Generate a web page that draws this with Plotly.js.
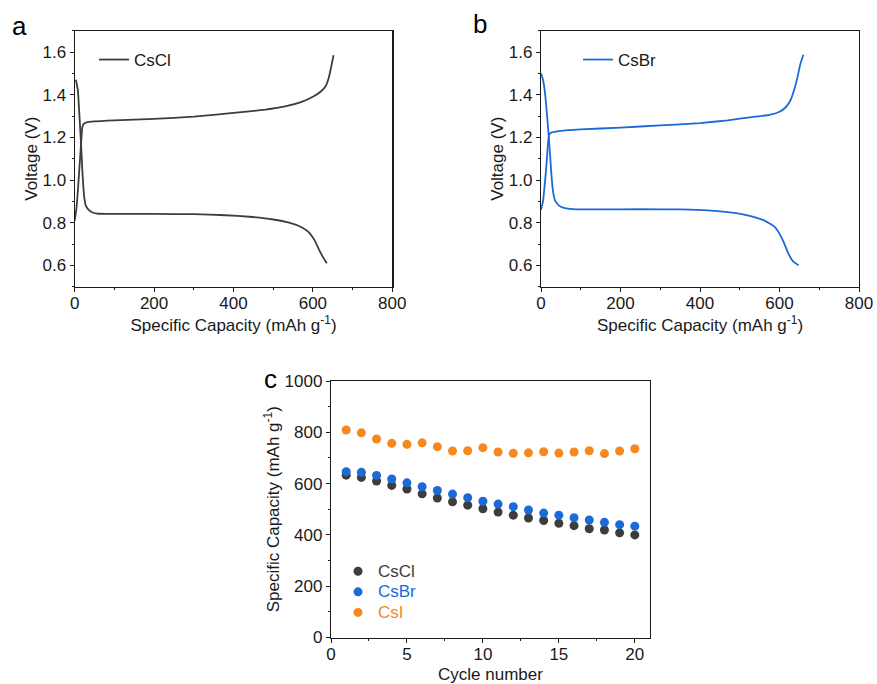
<!DOCTYPE html>
<html>
<head>
<meta charset="utf-8">
<script src="https://cdn.plot.ly/plotly-3.0.1.min.js"></script>
<style>
  html, body { margin: 0; padding: 0; background: #fff; }
  #chart { width: 877px; height: 684px; }
</style>
</head>
<body>
<div id="chart"></div>
<script>
// ---- Panel a: CsCl charge / discharge profile ----
const clDisCap = [3, 8, 12, 16, 20, 24, 28, 35, 45, 60, 100, 200, 300, 380, 440, 500, 540, 570, 590, 605, 615, 625, 635];
const clDisV   = [1.47, 1.42, 1.30, 1.17, 1.02, 0.92, 0.88, 0.86, 0.848, 0.842, 0.841, 0.841, 0.840, 0.835, 0.828, 0.815, 0.800, 0.780, 0.755, 0.715, 0.675, 0.640, 0.610];
const clChgCap = [0, 4, 8, 12, 16, 19, 22, 30, 50, 100, 200, 300, 400, 480, 530, 570, 600, 620, 632, 640, 646, 652];
const clChgV   = [0.81, 0.86, 0.95, 1.06, 1.17, 1.245, 1.262, 1.27, 1.275, 1.28, 1.287, 1.297, 1.315, 1.33, 1.345, 1.365, 1.39, 1.415, 1.44, 1.48, 1.53, 1.585];

// ---- Panel b: CsBr charge / discharge profile ----
const brDisCap = [0, 5, 10, 14, 18, 22, 26, 30, 35, 45, 60, 80, 150, 250, 350, 420, 480, 530, 560, 585, 597, 610, 622, 635, 648];
const brDisV   = [1.50, 1.47, 1.41, 1.33, 1.24, 1.14, 1.03, 0.95, 0.905, 0.88, 0.868, 0.864, 0.862, 0.863, 0.862, 0.858, 0.847, 0.830, 0.812, 0.785, 0.758, 0.711, 0.656, 0.617, 0.600];
const brChgCap = [0, 5, 10, 14, 18, 21, 26, 50, 100, 200, 300, 400, 470, 530, 575, 600, 615, 628, 638, 645, 652, 660];
const brChgV   = [0.86, 0.90, 0.99, 1.08, 1.18, 1.215, 1.222, 1.23, 1.237, 1.246, 1.256, 1.267, 1.28, 1.295, 1.305, 1.32, 1.34, 1.375, 1.43, 1.48, 1.54, 1.587];

// ---- Panel c: cycling capacity ----
const cycles = [1, 2, 3, 4, 5, 6, 7, 8, 9, 10, 11, 12, 13, 14, 15, 16, 17, 18, 19, 20];
const capCsCl = [633, 624, 610, 593, 579, 560, 544, 529, 516, 502, 489, 477, 466, 456, 445, 436, 424, 419, 408, 400];
const capCsBr = [646, 644, 632, 618, 603, 588, 573, 559, 545, 531, 520, 510, 497, 485, 477, 467, 458, 449, 440, 434];
const capCsI  = [809, 798, 774, 757, 753, 759, 744, 727, 728, 740, 723, 718, 720, 724, 719, 723, 728, 717, 727, 736];

const colCl = '#3d3d3d';
const colBr = '#1b6ad8';
const colI  = '#f5891f';
const ink = '#1a1a1a';
const FONT = 'Liberation Sans, Arial, sans-serif';
const FS = 17;

// profile = discharge branch, gap, charge branch
function profile(dc, dv, cc, cv) {
  return { x: dc.concat([null], cc), y: dv.concat([null], cv) };
}
const pa = profile(clDisCap, clDisV, clChgCap, clChgV);
const pb = profile(brDisCap, brDisV, brChgCap, brChgV);

// legend entries of panel c are tinted like their markers
const tinted = (name, col) => '<span style="color:' + col + ';font-size:' + FS + 'px">' + name + '</span>';

const traces = [
  { type: 'scatter', mode: 'lines', x: pa.x, y: pa.y, xaxis: 'x', yaxis: 'y',
    name: 'CsCl', line: { color: colCl, width: 1.8, shape: 'spline', smoothing: 0.35 }, legend: 'legend', connectgaps: false },
  { type: 'scatter', mode: 'lines', x: pb.x, y: pb.y, xaxis: 'x2', yaxis: 'y2',
    name: 'CsBr', line: { color: colBr, width: 1.8, shape: 'spline', smoothing: 0.35 }, legend: 'legend2', connectgaps: false },
  { type: 'scatter', mode: 'markers', x: cycles, y: capCsCl, xaxis: 'x3', yaxis: 'y3',
    name: tinted('CsCl', colCl), marker: { color: colCl, size: 9 }, legend: 'legend3' },
  { type: 'scatter', mode: 'markers', x: cycles, y: capCsBr, xaxis: 'x3', yaxis: 'y3',
    name: tinted('CsBr', colBr), marker: { color: colBr, size: 9 }, legend: 'legend3' },
  { type: 'scatter', mode: 'markers', x: cycles, y: capCsI, xaxis: 'x3', yaxis: 'y3',
    name: tinted('CsI', colI), marker: { color: colI, size: 9 }, legend: 'legend3' }
];

const W = 877, H = 684;
const px = v => v / W;
const py = v => 1 - v / H;
const titleFont = { family: FONT, size: FS, color: ink };

function axisBase(extra) {
  return Object.assign({
    showline: true, mirror: true, linecolor: ink, linewidth: 1.2,
    ticks: 'outside', ticklen: 4, tickwidth: 1, tickcolor: ink,
    showgrid: false, zeroline: false, automargin: false,
    tickfont: { family: FONT, size: FS, color: ink }
  }, extra);
}
const capTitle = 'Specific Capacity (mAh g<sup>-1</sup>)';

const layout = {
  width: W, height: H,
  margin: { l: 0, r: 0, t: 0, b: 0 },
  paper_bgcolor: '#fff', plot_bgcolor: '#fff',
  font: { family: FONT, size: FS, color: ink },
  xaxis: axisBase({ domain: [px(74.7), px(392.3)], range: [0, 800], dtick: 200, anchor: 'y', ticklabelstandoff: -3,
    minor: { dtick: 100, ticks: 'outside', ticklen: 2, tickcolor: ink },
    title: { text: capTitle, standoff: 4, font: titleFont } }),
  yaxis: axisBase({ domain: [py(286.7), py(30.7)], range: [0.5, 1.7], dtick: 0.2, tick0: 0, tickformat: '.1f', anchor: 'x',
    minor: { dtick: 0.1, ticks: 'outside', ticklen: 2, tickcolor: ink },
    title: { text: 'Voltage (V)', standoff: 0, font: titleFont } }),
  xaxis2: axisBase({ domain: [px(541), px(859)], range: [0, 800], dtick: 200, anchor: 'y2', ticklabelstandoff: -3,
    minor: { dtick: 100, ticks: 'outside', ticklen: 2, tickcolor: ink },
    title: { text: capTitle, standoff: 4, font: titleFont } }),
  yaxis2: axisBase({ domain: [py(286.7), py(30.7)], range: [0.5, 1.7], dtick: 0.2, tick0: 0, tickformat: '.1f', anchor: 'x2',
    minor: { dtick: 0.1, ticks: 'outside', ticklen: 2, tickcolor: ink },
    title: { text: 'Voltage (V)', standoff: 0, font: titleFont } }),
  xaxis3: axisBase({ domain: [px(331), px(650)], range: [0, 21], dtick: 5, tick0: 0, anchor: 'y3', ticklabelstandoff: -3,
    minor: { dtick: 2.5, ticks: 'outside', ticklen: 2, tickcolor: ink },
    title: { text: 'Cycle number', standoff: 5, font: titleFont } }),
  yaxis3: axisBase({ domain: [py(637.5), py(381)], range: [0, 1000], dtick: 200, tick0: 0, anchor: 'x3',
    minor: { dtick: 100, ticks: 'outside', ticklen: 2, tickcolor: ink },
    title: { text: capTitle, standoff: 0, font: titleFont } }),
  legend: { x: px(94), y: py(60), xanchor: 'left', yanchor: 'middle', bgcolor: 'rgba(0,0,0,0)',
    font: { family: FONT, size: FS, color: ink } },
  legend2: { x: px(578), y: py(60), xanchor: 'left', yanchor: 'middle', bgcolor: 'rgba(0,0,0,0)',
    font: { family: FONT, size: FS, color: ink } },
  // smaller base size keeps the rows tight; the span sets the visible size
  legend3: { x: px(338), y: py(592), xanchor: 'left', yanchor: 'middle', bgcolor: 'rgba(0,0,0,0)',
    font: { family: FONT, size: 13.5, color: ink }, tracegroupgap: 0 },
  annotations: [
    { text: 'a', x: px(19), y: py(26), xref: 'paper', yref: 'paper', showarrow: false,
      xanchor: 'center', yanchor: 'middle', font: { family: FONT, size: 26, color: '#000' } },
    { text: 'b', x: px(480), y: py(24), xref: 'paper', yref: 'paper', showarrow: false,
      xanchor: 'center', yanchor: 'middle', font: { family: FONT, size: 26, color: '#000' } },
    { text: 'c', x: px(270), y: py(379), xref: 'paper', yref: 'paper', showarrow: false,
      xanchor: 'center', yanchor: 'middle', font: { family: FONT, size: 26, color: '#000' } }
  ],
  showlegend: true
};

Plotly.newPlot('chart', traces, layout, { staticPlot: true, displayModeBar: false });
</script>
</body>
</html>
